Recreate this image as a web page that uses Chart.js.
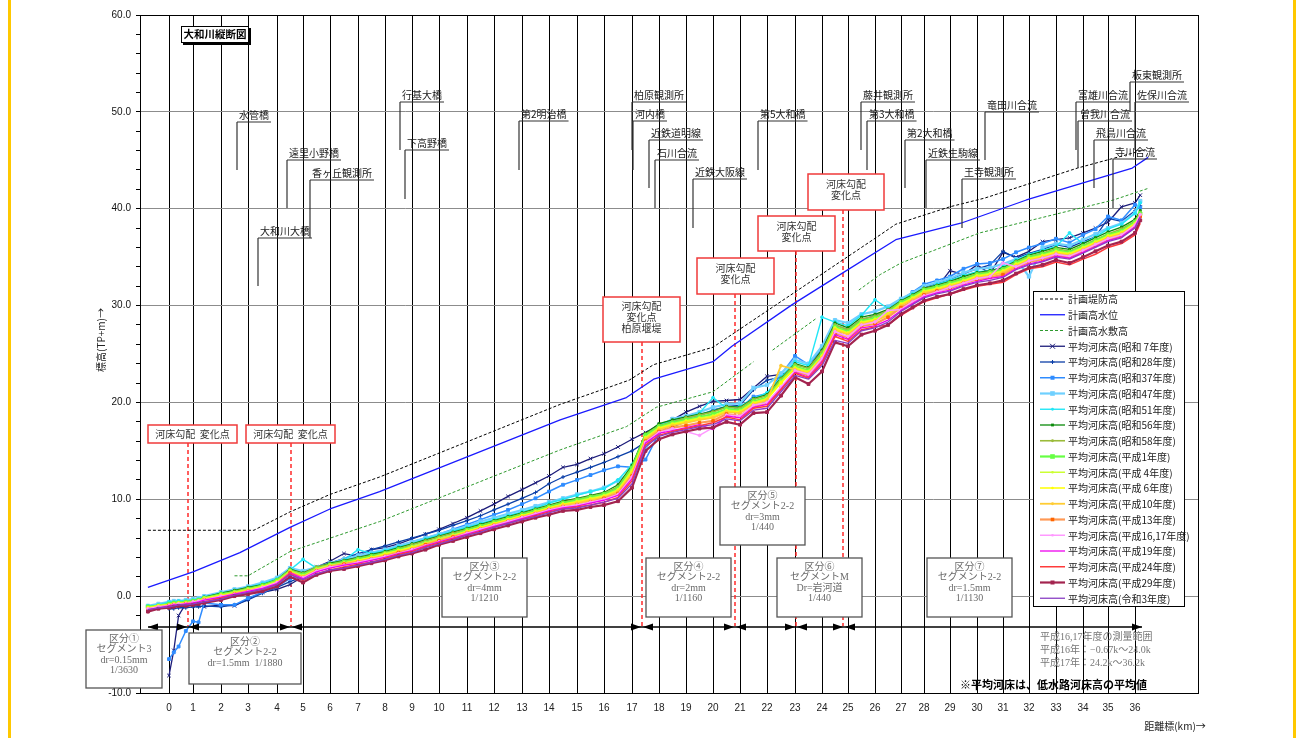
<!DOCTYPE html>
<html>
<head>
<meta charset="utf-8">
<script src="https://cdn.jsdelivr.net/npm/chart.js@4.4.1/dist/chart.umd.min.js"></script>
<style>
html,body{margin:0;padding:0;background:#fff;}
#wrap{position:relative;width:1300px;height:738px;}
canvas{display:block;}
</style>
</head>
<body>
<div id="wrap"><canvas id="c" width="1300" height="738"></canvas></div>
<script>
// ---- distance stations (km) shared by the surveyed bed profiles ----
const stations = [-0.8,-0.4,0,0.2,0.4,0.7,1.0,1.2,1.4,
  2.0,2.5,3.0,3.5,4.0,4.5,5.0,5.5,6.0,6.5,7.0,7.5,8.0,8.5,9.0,9.5,10.0,10.5,11.0,11.5,12.0,12.5,
  13.0,13.5,14.0,14.5,15.0,15.5,16.0,16.5,17.0,17.5,18.0,18.5,19.0,19.5,20.0,20.5,21.0,21.5,22.0,22.5,
  23.0,23.5,24.0,24.5,25.0,25.5,26.0,26.5,27.0,27.5,28.0,28.5,29.0,29.5,30.0,30.5,31.0,31.5,32.0,32.5,
  33.0,33.5,34.0,34.5,35.0,35.5,36.0,36.2];

const kmTicks = [0,1,2,3,4,5,6,7,8,9,10,11,12,13,14,15,16,17,18,19,20,21,22,23,24,25,26,27,28,29,30,31,32,33,34,35,36];

// ---- plan lines ----
const leveeKm   = [-0.8,3.2,4.5,6.0,7.8,14.4,16.9,17.8,20.0,20.8,26.2,26.8,29.0,30.3,33.8,36.4];
const leveeElev = [6.8,6.8,8.7,10.5,12.3,19.8,22.3,23.9,25.7,27.2,37.3,38.4,40.2,41.1,44.2,46.1];

const hwlKm   = [-0.8,1.0,2.7,4.5,6.0,7.8,14.4,16.8,17.8,20.0,20.7,22.9,24.4,26.8,29.4,31.9,35.9,36.5];
const hwlElev = [0.9,2.5,4.5,7.1,9.0,10.8,18.2,20.5,22.4,24.2,25.8,30.1,32.7,36.8,38.5,40.9,44.2,45.3];

const terraceKm   = [2.5,3.0,4.5,7.8,14.4,16.8,17.9,20.0,21.5,21.8,22.2,23.8,24.6,25.4,26.2,27.0,30.1,35.2,36.5];
const terraceElev = [2.1,2.1,4.6,7.7,15.1,17.5,19.5,21.1,24.2,null,25.4,28.7,null,31.6,33.2,34.4,37.5,40.9,42.1];

// ---- mean low-water-channel bed elevation by survey year (TP+m) ----
const bedS07 = [null,null,-8.2,-5.6,-2.0,-0.8,-1.0,-1.0,-1.1,-0.9,
  -1.0,-0.3,0.4,0.7,1.2,2.0,3.0,3.6,4.4,4.1,
  4.8,5.0,5.4,5.9,6.4,6.9,7.5,8.1,8.8,9.5,
  10.3,11.0,11.7,12.4,13.3,13.6,14.2,14.7,15.4,16.2,
  16.9,17.7,18.2,19.0,19.6,20.1,20.2,20.3,21.5,22.7,
  22.9,23.3,23.0,25.0,27.0,27.4,28.0,28.6,29.2,30.0,
  30.8,31.5,31.9,33.6,33.2,34.2,33.3,35.5,35.0,35.6,
  36.6,36.8,37.0,37.5,38.0,38.6,40.2,40.6,41.4];
const bedS28 = [null,null,-1.3,-1.3,-1.2,-1.2,-1.1,-1.1,-1.0,-1.1,
  -0.9,-0.4,0.3,0.9,1.5,2.0,2.7,3.4,3.9,4.4,
  4.8,5.2,5.6,6.0,6.4,6.8,7.3,7.8,8.3,8.9,
  9.5,10.1,10.7,11.6,12.3,12.8,13.3,13.8,14.4,15.0,
  15.9,16.8,17.5,18.0,18.6,19.2,19.6,19.7,21.3,22.3,
  22.6,23.4,23.2,25.5,27.6,27.4,28.5,29.0,29.5,30.5,
  31.2,31.9,32.3,32.7,33.3,33.8,34.2,35.6,34.9,35.4,
  35.8,36.3,36.0,36.6,37.1,39.0,38.7,39.8,40.3];
const bedS37 = [null,null,-6.5,-5.8,-5.2,-3.6,-2.6,-2.7,-0.7,-0.9,
  -0.9,-0.2,0.4,1.0,1.8,2.2,2.8,3.3,3.6,4.2,
  4.4,4.8,5.2,5.6,6.0,6.4,6.9,7.4,7.9,8.4,
  8.9,9.5,10.1,10.8,11.5,12.0,12.5,13.0,13.4,13.3,
  14.1,16.8,17.9,18.3,18.7,19.2,19.5,19.4,20.6,20.9,
  22.9,24.8,23.9,25.5,28.0,27.5,28.6,28.9,29.6,30.6,
  31.4,32.2,32.6,33.0,33.8,34.3,34.4,34.8,35.5,36.0,
  36.4,36.9,36.5,37.3,37.9,39.2,38.8,40.4,40.1];
const bedS47 = [-1.0,-0.8,-0.6,-0.5,-0.5,-0.4,-0.3,-0.2,0.0,0.4,
  0.7,1.0,1.4,1.9,2.9,2.6,3.0,3.4,3.8,4.2,
  4.5,4.8,5.2,5.6,6.0,6.4,6.8,7.2,7.7,8.1,
  8.5,8.9,9.3,9.7,10.1,10.5,10.8,11.2,11.9,12.9,
  15.2,17.5,18.3,18.6,19.0,19.5,19.8,19.9,21.5,21.8,
  23.0,24.4,24.0,25.8,28.5,28.2,29.1,29.4,29.9,30.7,
  31.3,32.0,32.4,32.8,33.4,33.8,33.9,34.3,34.8,33.0,
  36.0,36.4,36.2,36.8,37.4,38.0,38.5,39.6,40.8];
const bedS51 = [-1.0,-0.9,-0.6,-0.6,-0.5,-0.5,-0.4,-0.3,-0.1,0.3,
  0.6,0.9,1.3,1.8,2.7,3.8,2.9,3.3,3.7,4.8,
  4.4,4.7,5.1,5.4,5.9,6.3,6.7,7.1,7.5,7.9,
  8.3,8.7,9.1,9.6,10.0,10.4,10.8,11.1,12.0,13.6,
  16.2,17.7,18.1,18.4,18.9,20.5,19.4,19.6,20.4,21.0,
  22.6,24.2,23.8,28.8,28.3,27.9,29.0,30.6,29.7,30.5,
  31.2,31.6,32.2,32.6,33.1,33.5,33.6,34.0,34.7,35.3,
  35.7,36.1,37.5,36.4,37.1,37.9,38.4,39.5,40.6];
const bedS56 = [-1.2,-1.0,-0.8,-0.7,-0.7,-0.6,-0.5,-0.4,-0.1,0.3,
  0.6,0.9,1.2,1.7,2.8,2.4,3.0,3.4,3.7,4.0,
  4.3,4.6,5.0,5.4,5.8,6.2,6.6,7.0,7.4,7.8,
  8.2,8.6,9.0,9.4,9.8,10.1,10.4,10.7,11.5,13.5,
  16.8,17.8,18.2,18.5,18.8,19.1,19.6,19.5,20.4,20.8,
  22.5,24.0,23.6,25.4,28.2,27.7,28.8,29.1,29.6,30.5,
  31.1,31.8,32.1,32.5,33.0,33.4,33.6,33.9,34.6,35.2,
  35.6,36.0,35.8,36.4,37.0,37.6,38.1,38.9,39.8];
const bedS58 = [-1.2,-1.0,-0.9,-0.8,-0.7,-0.7,-0.6,-0.4,-0.2,0.2,
  0.5,0.8,1.1,1.7,2.7,2.3,3.0,3.3,3.6,3.9,
  4.2,4.5,4.9,5.3,5.7,6.1,6.5,6.9,7.3,7.7,
  8.1,8.5,8.9,9.3,9.7,10.0,10.3,10.6,11.3,13.3,
  16.7,17.6,18.0,18.4,18.7,19.0,19.5,19.4,20.3,20.7,
  22.4,23.9,23.5,25.2,28.0,27.5,28.6,28.9,29.5,30.4,
  31.0,31.7,32.0,32.4,32.8,33.3,33.5,33.8,34.5,35.1,
  35.4,35.9,35.6,36.2,36.8,37.4,37.9,38.7,39.6];
const bedH01 = [-1.1,-1.0,-0.8,-0.7,-0.7,-0.6,-0.5,-0.4,-0.2,0.2,
  0.4,0.7,1.1,1.6,2.6,2.2,2.8,3.2,3.5,3.8,
  4.1,4.4,4.8,5.1,5.5,5.9,6.3,6.8,7.2,7.6,
  8.0,8.4,8.8,9.2,9.6,9.9,10.2,10.5,11.1,13.2,
  16.6,17.5,17.9,18.2,18.5,18.8,19.3,19.2,20.1,20.5,
  22.2,23.7,23.3,24.9,27.8,27.3,28.4,28.7,29.3,30.3,
  30.9,31.6,31.9,32.3,32.7,33.2,33.4,33.7,34.4,35.0,
  35.3,35.7,35.5,36.1,36.7,37.3,37.7,38.6,39.5];
const bedH04 = [-1.2,-1.0,-0.9,-0.8,-0.8,-0.7,-0.6,-0.5,-0.2,0.1,
  0.4,0.7,1.0,1.5,2.6,2.1,2.8,3.2,3.4,3.7,
  4.0,4.4,4.7,5.1,5.5,5.9,6.3,6.7,7.1,7.5,
  7.9,8.3,8.7,9.1,9.5,9.8,10.1,10.4,11.0,13.0,
  16.4,17.4,17.8,18.1,18.4,18.6,19.2,19.1,20.0,20.4,
  22.1,23.6,23.2,24.8,27.7,27.2,28.3,28.6,29.2,30.2,
  30.8,31.5,31.8,32.2,32.6,33.1,33.3,33.6,34.3,34.9,
  35.2,35.6,35.4,36.0,36.6,37.2,37.6,38.5,39.4];
const bedH06 = [-1.2,-1.0,-0.9,-0.8,-0.7,-0.7,-0.6,-0.5,-0.3,0.1,
  0.3,0.6,1.0,1.5,2.4,2.0,2.7,3.1,3.4,3.7,
  4.0,4.3,4.7,5.0,5.4,5.8,6.2,6.7,7.1,7.5,
  7.9,8.3,8.7,9.1,9.5,9.7,10.0,10.3,10.9,12.8,
  16.3,17.3,17.7,18.0,18.3,18.5,19.1,19.0,19.9,20.3,
  22.0,23.5,23.1,24.7,27.6,27.1,28.2,28.5,29.1,30.1,
  30.7,31.4,31.7,32.1,32.5,33.0,33.2,33.5,34.2,34.8,
  35.1,35.5,35.3,35.9,36.5,37.1,37.5,38.4,39.3];
const bedH10 = [-1.3,-1.1,-0.9,-0.8,-0.8,-0.7,-0.6,-0.5,-0.3,0.0,
  0.3,0.6,0.9,1.4,2.5,2.0,2.7,3.1,3.4,3.6,
  3.9,4.2,4.6,4.9,5.4,5.8,6.2,6.6,7.0,7.4,
  7.8,8.2,8.6,9.0,9.4,9.6,9.9,10.2,10.8,12.6,
  16.2,17.2,17.6,17.9,18.2,18.4,19.0,18.9,19.8,20.2,
  23.8,23.4,23.0,24.6,27.5,27.0,28.1,28.4,29.0,30.0,
  30.6,31.3,31.6,32.0,32.4,32.9,33.1,33.4,34.1,34.7,
  35.0,35.4,35.2,35.8,36.4,37.0,37.4,38.3,39.3];
const bedH13 = [-1.4,-1.2,-1.0,-0.9,-0.9,-0.8,-0.7,-0.6,-0.4,-0.1,
  0.2,0.5,0.8,1.3,2.4,1.9,2.6,3.0,3.3,3.5,
  3.8,4.1,4.5,4.8,5.3,5.7,6.1,6.5,6.9,7.3,
  7.7,8.1,8.5,8.9,9.2,9.4,9.7,10.1,10.6,12.4,
  16.0,17.0,17.4,17.6,17.9,18.1,18.8,18.6,19.6,19.9,
  21.5,23.2,22.8,24.4,27.2,26.7,27.9,28.1,28.8,29.8,
  30.4,31.1,31.5,31.8,32.3,32.7,32.9,33.2,33.9,34.5,
  34.8,35.2,35.0,35.6,36.2,36.8,37.2,38.1,39.2];
const bedH16 = [-1.3,-1.1,-1.0,-0.9,-0.8,-0.8,-0.6,-0.5,-0.4,0.0,
  0.2,0.5,0.9,1.4,2.2,1.9,2.6,3.0,3.2,3.5,
  3.8,4.1,4.4,4.8,5.2,5.6,6.0,6.5,6.9,7.3,
  7.7,8.1,8.5,8.9,9.2,9.4,9.7,10.0,10.5,12.3,
  15.9,16.9,17.3,17.0,16.6,17.4,18.7,18.6,19.7,20.0,
  21.6,23.3,22.9,24.5,27.3,26.8,28.0,28.3,29.5,29.6,
  30.4,31.0,31.4,31.9,32.3,32.8,33.0,34.4,34.0,34.6,
  34.9,35.3,35.1,35.7,36.3,36.9,37.3,38.3,39.4];
const bedH19 = [-1.4,-1.2,-1.0,-0.9,-0.9,-0.8,-0.7,-0.6,-0.4,-0.1,
  0.2,0.5,0.8,1.3,2.4,1.8,2.5,2.9,3.2,3.4,
  3.7,4.0,4.4,4.7,5.2,5.6,6.0,6.4,6.8,7.2,
  7.6,8.0,8.4,8.8,9.1,9.3,9.6,9.9,10.4,12.1,
  15.8,16.8,17.1,17.4,17.7,17.2,18.6,18.4,19.5,19.8,
  21.4,23.1,22.6,24.2,27.0,26.5,27.7,27.9,28.5,29.5,
  30.2,30.9,31.3,31.6,32.1,32.5,32.8,33.0,33.8,34.3,
  34.6,35.1,34.9,35.5,36.1,36.7,37.1,38.1,39.2];
const bedH24 = [-1.5,-1.3,-1.1,-1.0,-1.0,-0.9,-0.8,-0.7,-0.6,-0.2,
  0.1,0.3,0.6,1.2,2.3,1.6,2.3,2.7,3.0,3.3,
  3.5,3.9,4.3,4.6,5.1,5.5,5.9,6.3,6.7,7.1,
  7.5,7.9,8.3,8.7,9.0,9.2,9.4,9.7,10.2,11.9,
  15.6,16.6,17.0,17.3,17.6,17.9,18.5,18.2,19.4,19.6,
  21.3,23.0,22.5,24.0,26.8,26.3,27.5,27.8,28.0,29.0,
  29.7,30.4,30.8,31.2,31.6,32.0,32.2,32.4,33.2,33.8,
  34.0,34.5,34.2,34.8,35.3,36.0,36.4,37.3,38.5];
const bedH29 = [-1.6,-1.3,-1.2,-1.1,-1.0,-1.0,-0.9,-0.8,-0.7,-0.4,
  0.0,0.2,0.5,1.0,2.0,1.4,2.2,2.6,2.8,3.1,
  3.4,3.7,4.1,4.4,4.8,5.3,5.7,6.1,6.5,6.9,
  7.3,7.7,8.1,8.4,8.8,8.9,9.2,9.4,9.8,11.2,
  15.0,16.2,16.7,17.0,17.3,17.4,18.0,17.7,18.9,19.0,
  20.7,22.6,21.9,23.2,26.2,25.8,27.0,27.4,28.0,29.1,
  29.8,30.5,30.9,31.2,31.7,32.1,32.3,32.6,33.3,33.9,
  34.2,34.7,34.4,35.0,35.6,36.2,36.6,37.5,38.8];
const bedR03 = [-1.4,-1.2,-1.1,-1.0,-0.9,-0.9,-0.8,-0.7,-0.6,-0.3,
  0.1,0.4,0.7,1.2,2.2,1.7,2.3,2.7,2.9,3.2,
  3.5,3.8,4.2,4.5,5.0,5.4,5.8,6.3,6.6,7.1,
  7.5,7.9,8.2,8.6,9.0,9.1,9.4,9.7,10.1,11.6,
  15.4,16.5,16.9,17.2,17.5,17.7,18.3,18.1,19.2,19.4,
  21.1,22.8,22.4,23.8,26.4,26.1,27.4,27.7,28.3,29.4,
  30.1,30.8,31.2,31.5,32.0,32.4,32.6,32.9,33.7,34.2,
  34.5,35.0,34.8,35.4,36.0,36.6,37.0,38.0,39.1];

// ---- axis ruling: pixel of each km gridline as ruled on the drawing (left/right ends = plot edges) ----
const ruleKm = [-1.1,0,1,2,3,4,5,6,7,8,9,10,11,12,13,14,15,16,17,18,19,20,21,22,23,24,25,26,27,28,29,30,31,32,33,34,35,36,38.4];
const rulePx = [140,169,193,221,248,277,303,330,358,385,412,439,467,494,522,549,577,604,632,659,686,713,740,767,795,822,848,875,901,924,950,977,1003,1029,1056,1083,1108,1135,1198];

function kmToDecimal(v) {
  const n = ruleKm.length, span = rulePx[n - 1] - rulePx[0];
  let i = 0;
  if (v <= ruleKm[0]) i = 0;
  else if (v >= ruleKm[n - 1]) i = n - 2;
  else { while (i < n - 2 && v > ruleKm[i + 1]) i++; }
  const t = (v - ruleKm[i]) / (ruleKm[i + 1] - ruleKm[i]);
  const px = rulePx[i] + t * (rulePx[i + 1] - rulePx[i]);
  return (px - rulePx[0]) / span;
}
function decimalToKm(d) {
  const n = ruleKm.length, px = rulePx[0] + d * (rulePx[n - 1] - rulePx[0]);
  let i = 0;
  while (i < n - 2 && px > rulePx[i + 1]) i++;
  const t = (px - rulePx[i]) / (rulePx[i + 1] - rulePx[i]);
  return ruleKm[i] + t * (ruleKm[i + 1] - ruleKm[i]);
}

// distance-post scale: linear between the ruled km posts
class StationScale extends Chart.LinearScale {
  getPixelForValue(value) {
    if (value === null || value === undefined || isNaN(value)) return NaN;
    return this.getPixelForDecimal(kmToDecimal(value));
  }
  getValueForPixel(pixel) {
    return decimalToKm(this.getDecimalForPixel(pixel));
  }
}
StationScale.id = 'station';
StationScale.defaults = Chart.LinearScale.defaults;
Chart.register(StationScale);

function pts(xs, ys) { return xs.map((x, i) => ({ x: x, y: ys[i] })); }

const CJK = '"Noto Sans CJK JP", "Noto Sans", sans-serif';
const LATIN = '"Liberation Sans", Arial, sans-serif';
const SERIF = '"Liberation Serif", "Noto Sans CJK JP", serif';

const planSets = [
  { label: '計画堤防高', data: pts(leveeKm, leveeElev), borderColor: '#000000', borderWidth: 1, borderDash: [3, 2], pointRadius: 0 },
  { label: '計画高水位', data: pts(hwlKm, hwlElev), borderColor: '#1a1aff', borderWidth: 1.3, pointRadius: 0 },
  { label: '計画高水敷高', data: pts(terraceKm, terraceElev), borderColor: '#2e9a2e', borderWidth: 1, borderDash: [3, 2], pointRadius: 0 }
];

const yearSets = [
  { label: '平均河床高(昭和 7年度)', data: bedS07, color: '#1c1c7a', w: 1.3, ps: 'crossRot', r: 2.5 },
  { label: '平均河床高(昭和28年度)', data: bedS28, color: '#0b3fa8', w: 1.3, ps: 'cross', r: 2 },
  { label: '平均河床高(昭和37年度)', data: bedS37, color: '#2f8cff', w: 1.5, ps: 'rect', r: 2 },
  { label: '平均河床高(昭和47年度)', data: bedS47, color: '#6fd0ff', w: 2.2, ps: 'rect', r: 2.3 },
  { label: '平均河床高(昭和51年度)', data: bedS51, color: '#22e6f6', w: 1.4, ps: 'circle', r: 1.4 },
  { label: '平均河床高(昭和56年度)', data: bedS56, color: '#0a8a0a', w: 1.3, ps: 'rect', r: 1.4 },
  { label: '平均河床高(昭和58年度)', data: bedS58, color: '#9bbb3a', w: 1.6, ps: 'circle', r: 1.4 },
  { label: '平均河床高(平成1年度)', data: bedH01, color: '#66ff44', w: 2.2, ps: 'rect', r: 2.3 },
  { label: '平均河床高(平成 4年度)', data: bedH04, color: '#ccff33', w: 1.5, ps: 'circle', r: 1.3 },
  { label: '平均河床高(平成 6年度)', data: bedH06, color: '#ffff00', w: 1.5, ps: 'circle', r: 1.3 },
  { label: '平均河床高(平成10年度)', data: bedH10, color: '#ffcc33', w: 1.8, ps: 'circle', r: 1.4 },
  { label: '平均河床高(平成13年度)', data: bedH13, color: '#ff9955', w: 2.2, ps: 'rect', r: 1.8, pc: '#ff6600' },
  { label: '平均河床高(平成16,17年度)', data: bedH16, color: '#ff99ff', w: 1.5, ps: 'circle', r: 1.3 },
  { label: '平均河床高(平成19年度)', data: bedH19, color: '#ee00ee', w: 1.3, ps: 'circle', r: 0 },
  { label: '平均河床高(平成24年度)', data: bedH24, color: '#ff3b3b', w: 1.5, ps: 'circle', r: 0 },
  { label: '平均河床高(平成29年度)', data: bedH29, color: '#a3244f', w: 2.2, ps: 'rect', r: 2 },
  { label: '平均河床高(令和3年度)', data: bedR03, color: '#8a3fc4', w: 1.3, ps: 'circle', r: 0 }
];

const datasets = [];
planSets.forEach(p => datasets.push(Object.assign({ type: 'line', spanGaps: false, tension: 0, order: 0, fill: false }, p)));
yearSets.forEach((s, i) => datasets.push({
  type: 'line', label: s.label, data: pts(stations, s.data), spanGaps: false, tension: 0, fill: false,
  borderColor: s.color, borderWidth: s.w, pointStyle: s.ps, pointRadius: s.r,
  pointBackgroundColor: s.pc || s.color, pointBorderColor: s.pc || s.color, pointBorderWidth: 1,
  order: yearSets.length - i
}));

// ---- annotation texts ----
const chartTitle = '大和川縦断図';
// [name, leader x, underline y, leader bottom]
const landmarks = [
  ['水管橋', 237, 122, 170], ['遠里小野橋', 287, 160, 208], ['香ヶ丘観測所', 310, 180, 238], ['大和川大橋', 258, 238, 286],
  ['行基大橋', 400, 102, 150], ['下高野橋', 405, 150, 199], ['第2明治橋', 519, 121, 170],
  ['柏原観測所', 632, 102, 150], ['河内橋', 633, 121, 170], ['近鉄道明線', 649, 140, 188], ['石川合流', 655, 160, 208],
  ['近鉄大阪線', 693, 179, 228], ['第5大和橋', 758, 121, 170],
  ['藤井観測所', 861, 102, 150], ['第3大和橋', 867, 121, 170], ['第2大和橋', 905, 140, 188], ['近鉄生駒線', 926, 160, 208],
  ['竜田川合流', 985, 112, 160], ['王寺観測所', 962, 179, 228],
  ['富雄川合流', 1076, 102, 150], ['板東観測所', 1130, 82, 112], ['佐保川合流', 1135, 102, 150],
  ['曽我川合流', 1078, 121, 168], ['飛鳥川合流', 1094, 140, 188], ['寺川合流', 1113, 159, 208]
];
const gradeBoxes = [
  { box: [148, 425, 237, 443], lines: ['河床勾配  変化点'], at: 188 },
  { box: [246, 425, 335, 443], lines: ['河床勾配  変化点'], at: 291 },
  { box: [603, 297, 680, 342], lines: ['河床勾配', '変化点', '柏原堰堤'], at: 642 },
  { box: [697, 258, 774, 294], lines: ['河床勾配', '変化点'], at: 735 },
  { box: [758, 216, 835, 251], lines: ['河床勾配', '変化点'], at: 796 },
  { box: [808, 174, 884, 210], lines: ['河床勾配', '変化点'], at: 843 }
];
const sectionBoxes = [
  { box: [86, 630, 162, 688], lines: ['区分①', 'セグメント3', 'dr=0.15mm', '1/3630'] },
  { box: [189, 633, 301, 684], lines: ['区分②', 'セグメント2-2', 'dr=1.5mm  1/1880'] },
  { box: [442, 558, 527, 617], lines: ['区分③', 'セグメント2-2', 'dr=4mm', '1/1210'] },
  { box: [646, 558, 731, 617], lines: ['区分④', 'セグメント2-2', 'dr=2mm', '1/1160'] },
  { box: [720, 487, 805, 545], lines: ['区分⑤', 'セグメント2-2', 'dr=3mm', '1/440'] },
  { box: [777, 558, 862, 617], lines: ['区分⑥', 'セグメントM', 'Dr=岩河道', '1/440'] },
  { box: [927, 558, 1012, 617], lines: ['区分⑦', 'セグメント2-2', 'dr=1.5mm', '1/1130'] }
];
const sectionBreaks = [188, 291, 642, 735, 796, 844];
const surveyNote = ['平成16,17年度の測量範囲', '平成16年：−0.67k〜24.0k', '平成17年：24.2k〜36.2k'];
const bedNote = '※平均河床は、低水路河床高の平均値';
const yTitle = '標高(TP+m)→';
const xTitle = '距離標(km)→';

function line(c, x1, y1, x2, y2) { c.beginPath(); c.moveTo(x1, y1); c.lineTo(x2, y2); c.stroke(); }
function tri(c, tipX, y, dir) { // dir: 1 points right, -1 points left
  c.beginPath(); c.moveTo(tipX, y); c.lineTo(tipX - dir * 10, y - 3.5); c.lineTo(tipX - dir * 10, y + 3.5); c.closePath(); c.fill();
}
function marker(c, style, x, y, r, color) {
  if (!r) return;
  c.save(); c.fillStyle = color; c.strokeStyle = color; c.lineWidth = 1;
  if (style === 'rect') c.fillRect(x - r, y - r, 2 * r, 2 * r);
  else if (style === 'circle') { c.beginPath(); c.arc(x, y, r, 0, Math.PI * 2); c.fill(); }
  else if (style === 'cross') { line(c, x - r, y, x + r, y); line(c, x, y - r, x, y + r); }
  else if (style === 'crossRot') { line(c, x - r, y - r, x + r, y + r); line(c, x - r, y + r, x + r, y - r); }
  c.restore();
}

const overlay = {
  id: 'overlay',
  beforeDraw(chart) {
    const c = chart.ctx;
    c.save();
    c.fillStyle = '#fff'; c.fillRect(0, 0, chart.width, chart.height);
    c.fillStyle = '#ffc800'; c.fillRect(8, 0, 3, chart.height); c.fillRect(1293, 0, 3, chart.height);
    c.restore();
  },
  beforeDatasetsDraw(chart) {
    const c = chart.ctx;
    c.save();
    c.strokeStyle = '#ff2a2a'; c.lineWidth = 1.5; c.setLineDash([4, 3]);
    gradeBoxes.forEach(g => line(c, g.at, g.box[3], g.at, 626));
    c.restore();
  },
  afterDraw(chart) {
    const c = chart.ctx, a = chart.chartArea;
    c.save();
    // frame
    c.strokeStyle = '#000'; c.lineWidth = 1;
    c.strokeRect(Math.round(a.left) + 0.5, Math.round(a.top) + 0.5, Math.round(a.right - a.left), Math.round(a.bottom - a.top));

    // title box with drop shadow
    c.fillStyle = '#000'; c.fillRect(183, 28, 68, 17);
    c.fillStyle = '#fff'; c.fillRect(181, 26, 67, 16);
    c.strokeStyle = '#000'; c.lineWidth = 1; c.strokeRect(181.5, 26.5, 67, 16);
    c.fillStyle = '#000'; c.font = 'bold 10.5px ' + CJK; c.textAlign = 'center'; c.textBaseline = 'middle';
    c.fillText(chartTitle, 215, 34.5);

    // landmark labels with leaders
    c.font = '10px ' + CJK; c.textAlign = 'left'; c.textBaseline = 'middle';
    c.strokeStyle = '#333'; c.lineWidth = 1.2;
    landmarks.forEach(([name, lx, uy, yEnd]) => {
      const w = c.measureText(name).width;
      c.fillStyle = '#1a1a1a'; c.fillText(name, lx + 2, uy - 7);
      line(c, lx, uy, lx + w + 4, uy);
      line(c, lx, uy, lx, yEnd);
    });

    // bed-gradient change boxes
    gradeBoxes.forEach(g => {
      const [x1, y1, x2, y2] = g.box;
      c.fillStyle = '#fff'; c.fillRect(x1, y1, x2 - x1, y2 - y1);
      c.strokeStyle = '#f03a3a'; c.lineWidth = 1.5; c.strokeRect(x1, y1, x2 - x1, y2 - y1);
      c.fillStyle = '#333'; c.font = '10px ' + CJK; c.textAlign = 'center'; c.textBaseline = 'middle';
      const cy = (y1 + y2) / 2 - (g.lines.length > 1 ? 2 : 0), h = 11;
      g.lines.forEach((t, k) => c.fillText(t, (x1 + x2) / 2, cy + (k - (g.lines.length - 1) / 2) * h));
    });

    // section arrow row
    c.strokeStyle = '#000'; c.fillStyle = '#000'; c.lineWidth = 1.3;
    line(c, 148, 627, 1142, 627);
    tri(c, 148, 627, -1);
    sectionBreaks.forEach(b => { tri(c, b - 1, 627, 1); tri(c, b + 1, 627, -1); });
    tri(c, 1142, 627, 1);

    // section boxes
    sectionBoxes.forEach(s => {
      const [x1, y1, x2, y2] = s.box;
      c.fillStyle = '#fff'; c.fillRect(x1, y1, x2 - x1, y2 - y1);
      c.strokeStyle = '#555'; c.lineWidth = 1.3; c.strokeRect(x1, y1, x2 - x1, y2 - y1);
      c.fillStyle = '#6a6a6a'; c.font = '10px ' + SERIF; c.textAlign = 'center'; c.textBaseline = 'middle';
      s.lines.forEach((t, k) => c.fillText(t, (x1 + x2) / 2, y1 + 9 + k * 10.6));
    });

    // survey-range note
    c.fillStyle = '#777'; c.font = '10px ' + SERIF; c.textAlign = 'left'; c.textBaseline = 'middle';
    surveyNote.forEach((t, k) => c.fillText(t, 1040, 637 + k * 13));
    c.fillStyle = '#000'; c.font = 'bold 11px ' + CJK;
    c.fillText(bedNote, 960, 685);

    // legend
    const lx = 1033, ly = 291, lw = 151, lh = 315;
    c.fillStyle = '#fff'; c.fillRect(lx, ly, lw, lh);
    c.strokeStyle = '#000'; c.lineWidth = 1; c.strokeRect(lx + 0.5, ly + 0.5, lw, lh);
    c.font = '10px ' + CJK; c.textAlign = 'left'; c.textBaseline = 'middle';
    chart.data.datasets.forEach((d, i) => {
      const y = 299 + i * 15.75;
      c.save();
      c.strokeStyle = d.borderColor; c.lineWidth = d.borderWidth; c.setLineDash(d.borderDash || []);
      line(c, 1040, y, 1065, y);
      c.restore();
      marker(c, d.pointStyle, 1052.5, y, d.pointRadius, d.pointBackgroundColor || d.borderColor);
      c.fillStyle = '#1a1a1a'; c.fillText(d.label, 1068, y + 0.5);
    });

    // axis titles
    c.fillStyle = '#222'; c.font = '10px ' + CJK; c.textAlign = 'center'; c.textBaseline = 'middle';
    c.fillText(xTitle, 1175, 726);
    c.save(); c.translate(101, 340); c.rotate(-Math.PI / 2); c.fillText(yTitle, 0, 0); c.restore();
    c.restore();
  }
};

new Chart(document.getElementById('c'), {
  type: 'line',
  data: { datasets: datasets },
  options: {
    responsive: false, animation: false, devicePixelRatio: 1,
    layout: { padding: { left: 0, right: 102, top: 15, bottom: 0 } },
    plugins: { legend: { display: false }, tooltip: { enabled: false } },
    elements: { line: { borderJoinStyle: 'round' } },
    scales: {
      x: {
        type: 'station', min: -1.1, max: 38.4,
        afterBuildTicks: s => { s.ticks = kmTicks.map(v => ({ value: v })); },
        afterFit: s => { s.height = 45; },
        grid: { color: '#000', lineWidth: 1, drawTicks: false },
        border: { color: '#000', width: 1 },
        ticks: { padding: 9, autoSkip: false, maxRotation: 0, color: '#222', font: { family: LATIN, size: 10 }, callback: v => String(v) }
      },
      y: {
        type: 'linear', min: -10, max: 60,
        afterFit: s => { s.width = 140; },
        grid: { color: ctx => (ctx.tick && ctx.tick.value % 10 === 0) ? '#8c8c8c' : 'rgba(0,0,0,0)', tickColor: '#000', tickLength: 4, lineWidth: 1 },
        border: { color: '#000', width: 1 },
        ticks: { stepSize: 2, autoSkip: false, padding: 5, color: '#111', font: { family: LATIN, size: 10 },
                 callback: v => (v % 10 === 0 ? v.toFixed(1) : '') }
      }
    }
  },
  plugins: [overlay]
});
</script>
</body>
</html>
